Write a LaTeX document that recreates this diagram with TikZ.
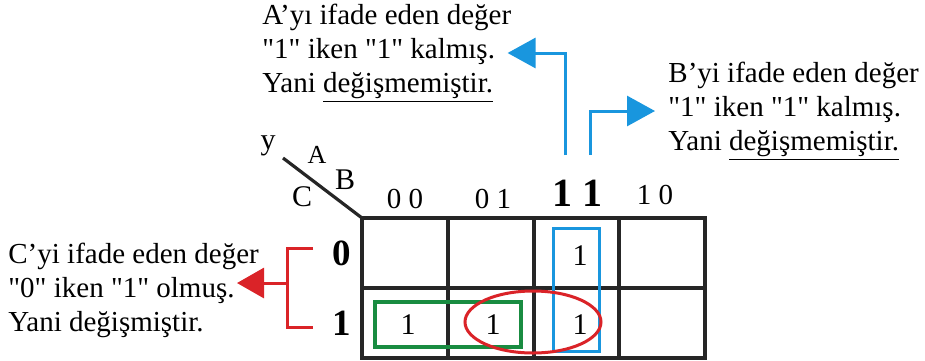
\documentclass[tikz,border=0pt]{standalone}
\usepackage{fontspec}
\setmainfont{Liberation Serif}
\usetikzlibrary{arrows.meta, positioning, calc}
\definecolor{kmblue}{RGB}{25, 150, 222}
\definecolor{kmred}{RGB}{218, 35, 40}
\definecolor{kmgreen}{RGB}{25, 140, 65}
\newcommand{\qd}{\textquotedbl}

\tikzset{
  gridline/.style={line width=2pt, black!85, line cap=rect},
  note/.style={font=\fontsize{14.5}{17}\selectfont, align=left, inner sep=0pt, anchor=west},
  colhead/.style={font=\fontsize{14.5}{16}\selectfont},
  rowhead/.style={font=\fontsize{18.5}{20}\selectfont\bfseries},
  cellone/.style={font=\fontsize{15}{16}\selectfont},
  varlabel/.style={font=\fontsize{15}{16}\selectfont, inner sep=0pt},
  bluearrow/.style={kmblue, line width=1.5pt, -{Triangle[length=14pt, width=15pt]}},
  redarrow/.style={kmred, line width=1.5pt, -{Triangle[length=13.5pt, width=15pt]}},
}

\begin{document}
\begin{tikzpicture}[x=0.5pt, y=-0.5pt]
\useasboundingbox (0,0) rectangle (925,360);

% === Harita ===
\foreach \i in {0,...,4}
  \draw[gridline] (362+85.75*\i,218) -- (362+85.75*\i,358);
\foreach \j in {0,1,2}
  \draw[gridline] (362,218+70*\j) -- (705,218+70*\j);
\draw[line width=1.6pt, black!85] (283,158) -- (362,218);

% Degiskenler
\node[varlabel] (vy) at (268,146) {y};
\node[varlabel, font=\fontsize{13}{14}\selectfont] (va) at (317,155) {A};
\node[varlabel] (vb) at (345,180) {B};
\node[varlabel] (vc) at (302,197) {C};

% Sutun ve satir basliklari
\node[colhead] (c00) at (405,199) {0 0};
\node[colhead] (c01) at (493,199) {0 1};
\node[font=\fontsize{20}{22}\selectfont\bfseries] (c11) at (577,193) {1 1};
\node[colhead] (c10) at (655,195) {1 0};
\node[rowhead] (r0) at (342,253) {0};
\node[rowhead] (r1) at (342,323) {1};

% Hucreler
\node[cellone] (m3) at (580,256) {1};
\node[cellone] (m4) at (408,325) {1};
\node[cellone] (m5) at (493,325) {1};
\node[cellone] (m7) at (580,325) {1};

% Gruplar
\draw[kmblue, line width=1.5pt] (553,228) rectangle (599,351);
\draw[kmgreen, line width=2pt] (375,302) rectangle (521,347);
\draw[kmred, line width=1.5pt] (533,322) ellipse [x radius=68, y radius=31];

% === Aciklamalar ===
\node[note] (atext) at (262,53) {A’yı ifade eden değer\\\qd1\qd{} iken \qd1\qd{} kalmış.\\Yani \underline{değişmemiştir.}};
\node[note] (btext) at (668,111) {B’yi ifade eden değer\\\qd1\qd{} iken \qd1\qd{} kalmış.\\Yani \underline{değişmemiştir.}};
\node[note] (ctext) at (8,290) {C’yi ifade eden değer\\\qd0\qd{} iken \qd1\qd{} olmuş.\\Yani değişmiştir.};

% Oklar
\coordinate (a11) at (565,155);
\coordinate (b11) at (590,155);
\draw[bluearrow] (a11) |- ([xshift=-2pt]atext.east);
\draw[bluearrow] (b11) |- ([xshift=-6.5pt]btext.west);

\coordinate (c0) at (313,248);
\coordinate (c1) at (313,327);
\coordinate (cm) at (287,283);
\coordinate (ctip) at (237,283);
\draw[kmred, line width=1.5pt] (c0) -| (cm) |- (c1);
\draw[redarrow] (cm) -- (ctip);

\end{tikzpicture}
\end{document}
